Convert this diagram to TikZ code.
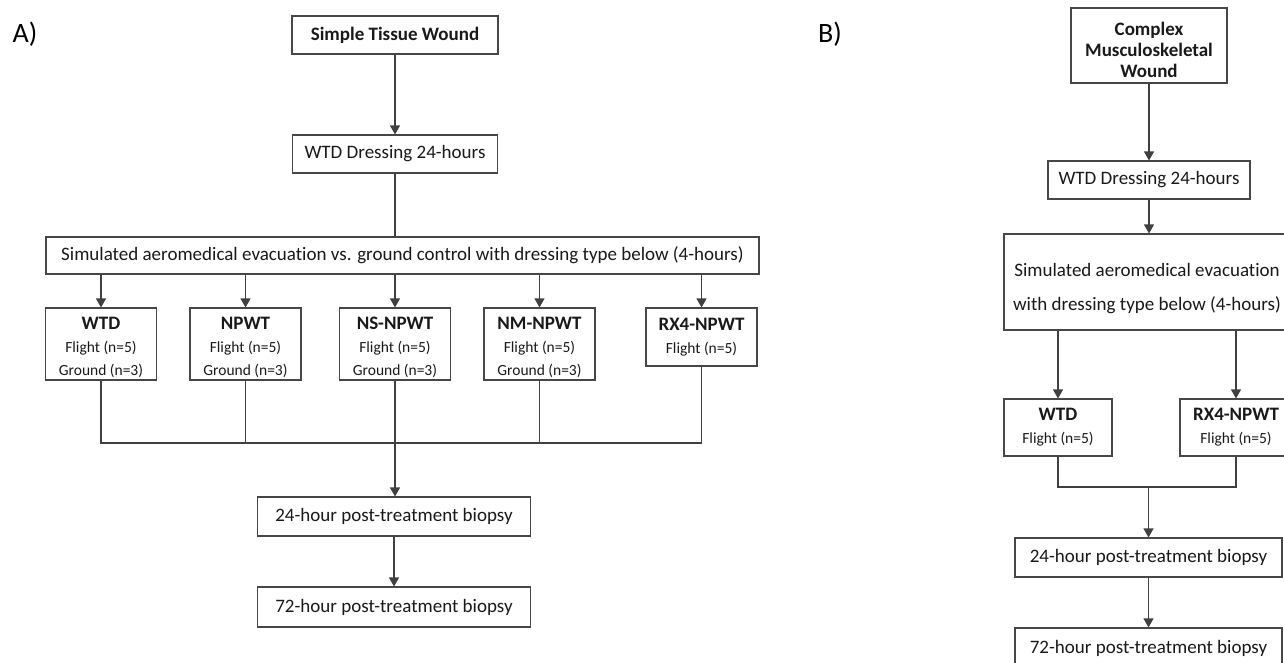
\documentclass[tikz,border=0pt]{standalone}
\usepackage{fontspec}
\setmainfont[Ligatures=NoCommon]{Carlito}
\usetikzlibrary{arrows.meta}
\newcommand\mainsz{\fontsize{19}{23}\selectfont}
\newcommand\subsz{\fontsize{15.5}{20}\selectfont}

\begin{document}
\begin{tikzpicture}[x=1pt,y=-1pt]
    \tikzstyle{box}=[draw=black!72, line width=1.1pt, text=black!90, align=center, inner sep=0pt, font=\mainsz]
    \tikzstyle{arm}=[box, minimum width=111pt, minimum height=72pt]
    \tikzstyle{armB}=[box, minimum width=110pt, minimum height=57pt]
    \tikzstyle{link}=[draw=black!75, line width=1.1pt]
    \tikzstyle{arrow}=[link, -{Triangle[width=10pt,length=9pt]}]

    \useasboundingbox (0,0) rectangle (1284,662);
    \clip (0,0) rectangle (1284,662);

    % panel A
    \node[font=\fontsize{28}{30}\selectfont] (labA) at (25,34) {A)};
    \node[box, minimum width=206pt, minimum height=38pt] (topA) at (395,35) {\textbf{Simple Tissue Wound}};
    \node[box, minimum width=205pt, minimum height=38pt] (wtdA) at (395,154) {WTD Dressing 24-hours};
    \node[box, minimum width=713pt, minimum height=37pt] (simA) at (402.5,255.5) {Simulated aeromedical evacuation vs. ground control with dressing type below (4-hours)};

    \node[arm] (aWTD) at (101,344) {\rule{0pt}{19pt}\textbf{WTD}\\ \subsz Flight (n=5)\\ \subsz Ground (n=3)};
    \node[arm] (aNPWT) at (245.5,344) {\rule{0pt}{19pt}\textbf{NPWT}\\ \subsz Flight (n=5)\\ \subsz Ground (n=3)};
    \node[arm] (aNS) at (395,344) {\rule{0pt}{19pt}\textbf{NS-NPWT}\\ \subsz Flight (n=5)\\ \subsz Ground (n=3)};
    \node[arm] (aNM) at (539.5,344) {\rule{0pt}{19pt}\textbf{NM-NPWT}\\ \subsz Flight (n=5)\\ \subsz Ground (n=3)};
    \node[arm, minimum height=58pt] (aRX) at (701.5,337) {\textbf{RX4-NPWT}\\ \subsz Flight (n=5)};

    \coordinate (joinA) at (395,443);
    \node[box, minimum width=273pt, minimum height=39pt] (b24A) at (394,516.5) {24-hour post-treatment biopsy};
    \node[box, minimum width=273pt, minimum height=40pt] (b72A) at (394,607) {72-hour post-treatment biopsy};

    \draw[arrow] (topA) -- (wtdA);
    \draw[link] (wtdA.south) -- (wtdA.south |- simA.north);
    \foreach \arm in {aWTD, aNPWT, aNS, aNM, aRX}
        \draw[arrow] (\arm.north |- simA.south) -- (\arm.north);
    \draw[link] (aWTD.south) -- (aWTD.south |- joinA) -- (aRX.south |- joinA) -- (aRX.south);
    \draw[link] (aNPWT.south) -- (aNPWT.south |- joinA);
    \draw[link] (aNM.south) -- (aNM.south |- joinA);
    \draw[link] (aNS.south) -- (joinA);
    \draw[arrow] (joinA) -- (joinA |- b24A.north);
    \draw[arrow] (b24A) -- (b72A);

    % panel B
    \node[font=\fontsize{28}{30}\selectfont] (labB) at (830,34) {B)};
    \node[box, minimum width=156pt, minimum height=75pt] (topB) at (1149,45.5) {\rule{0pt}{22pt}\textbf{Complex}\\[-2pt] \textbf{Musculoskeletal}\\[-2pt] \textbf{Wound}};
    \node[box, minimum width=202pt, minimum height=38pt] (wtdB) at (1149,180) {WTD Dressing 24-hours};
    \node[box, minimum width=286pt, minimum height=96pt] (simB) at (1147,282) {\rule{0pt}{26pt}Simulated aeromedical evacuation\\[11pt] with dressing type below (4-hours)};

    \node[armB, minimum width=108pt] (bWTD) at (1058,427.5) {\textbf{WTD}\\ \subsz Flight (n=5)};
    \node[armB, minimum width=112pt] (bRX) at (1236,427.5) {\textbf{RX4-NPWT}\\ \subsz Flight (n=5)};

    \coordinate (joinB) at (1148.5,487);
    \node[box, minimum width=267pt, minimum height=39pt] (b24B) at (1148.5,557.5) {24-hour post-treatment biopsy};
    \node[box, minimum width=267pt, minimum height=40pt] (b72B) at (1148.5,648) {72-hour post-treatment biopsy};

    \draw[arrow] (topB) -- (wtdB);
    \draw[arrow] (wtdB) -- (wtdB.south |- simB.north);
    \draw[arrow] (bWTD.north |- simB.south) -- (bWTD.north);
    \draw[arrow] (bRX.north |- simB.south) -- (bRX.north);
    \draw[link] (bWTD.south) -- (bWTD.south |- joinB) -- (bRX.south |- joinB) -- (bRX.south);
    \draw[arrow] (joinB) -- (joinB |- b24B.north);
    \draw[arrow] (b24B) -- (b72B);
\end{tikzpicture}
\end{document}
